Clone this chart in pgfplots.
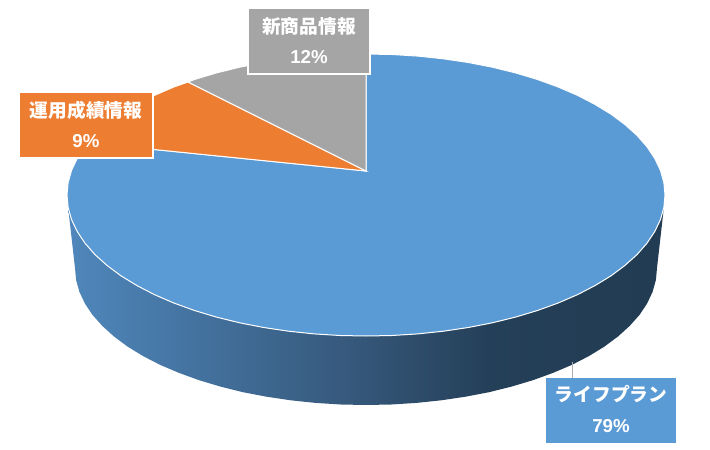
\documentclass[border=0pt]{standalone}
\usepackage{pgfplots}
\pgfplotsset{compat=1.18}
\usepackage{fontspec}
\setmainfont{Liberation Sans}
\newfontfamily\cjk{Noto Sans CJK JP}
\definecolor{cblue}{HTML}{5B9BD5}
\definecolor{corange}{HTML}{ED7D31}
\definecolor{cgrey}{HTML}{A5A5A5}
\pgfdeclarehorizontalshading{sideshade}{100bp}{
  rgb(0bp)=(.31,.53,.737);
  rgb(25bp)=(.31,.53,.737);
  rgb(48.5bp)=(.212,.349,.486);
  rgb(60.5bp)=(.141,.247,.345);
  rgb(75bp)=(.133,.235,.325);
  rgb(100bp)=(.133,.235,.325)}
\newcommand{\lab}[1]{\fontsize{18.7}{22}\selectfont\bfseries\color{white}#1}
\begin{document}
\begin{tikzpicture}
\useasboundingbox (0,0) rectangle (710pt,450pt);
\begin{axis}[
  at={(0,0)}, anchor=south west,
  scale only axis, width=710pt, height=450pt,
  xmin=0, xmax=710, ymin=0, ymax=450, y dir=reverse,
  axis lines=none, clip=false]
% side of the pie
\addplot[draw=none, shading=sideshade] coordinates {
 (663.9,207.3)(660.5,219.5)(654.8,231.5)(647,243.2)(637,254.6)(624.9,265.5)(610.9,275.9)(595,285.6)(577.4,294.7)(558.2,303)(537.5,310.5)(515.5,317.1)(492.4,322.8)(468.3,327.5)(443.4,331.2)(417.9,333.9)(392.1,335.5)(366,336)
 (339.9,335.5)(314.1,333.9)(288.6,331.2)(263.7,327.5)(239.6,322.8)(216.5,317.1)(194.5,310.5)(173.8,303)(154.6,294.7)(137,285.6)(121.1,275.9)(107.1,265.5)(95,254.6)(85,243.2)(77.2,231.5)(71.5,219.5)(68.1,207.3)
 (75,268)(76.1,280)(79.4,291.8)(84.9,303.5)(92.5,314.9)(102.3,325.9)(114,336.5)(127.6,346.6)(143.1,356.1)(160.2,364.9)(179,372.9)(199.1,380.2)(220.5,386.6)(243,392.2)(266.5,396.7)(290.7,400.3)(315.5,402.9)(340.6,404.5)(366,405)
 (391.4,404.5)(416.5,402.9)(441.3,400.3)(465.5,396.7)(489,392.2)(511.5,386.6)(532.9,380.2)(553,372.9)(571.8,364.9)(588.9,356.1)(604.4,346.6)(618,336.5)(629.7,325.9)(639.5,314.9)(647.1,303.5)(652.6,291.8)(655.9,280)(657,268)
} -- cycle;
% leader line
\addplot[draw=cgrey!90, line width=1pt] coordinates {(572.5,362)(572.5,378)};
% blue wedge: ライフプラン 79%
\addplot[fill=cblue, draw=white, line width=1pt] coordinates {
 (366,171)(366,54)(392.1,54.5)(417.9,56.1)(443.4,58.8)(468.3,62.5)(492.4,67.2)(515.5,72.9)(537.5,79.5)(558.2,87)(577.4,95.3)(595,104.4)(610.9,114.1)(624.9,124.5)(637,135.4)(647,146.8)(654.8,158.5)(660.5,170.5)(663.9,182.7)(665,195)
 (663.9,207.3)(660.5,219.5)(654.8,231.5)(647,243.2)(637,254.6)(624.9,265.5)(610.9,275.9)(595,285.6)(577.4,294.7)(558.2,303)(537.5,310.5)(515.5,317.1)(492.4,322.8)(468.3,327.5)(443.4,331.2)(417.9,333.9)(392.1,335.5)(366,336)
 (339.9,335.5)(314.1,333.9)(288.6,331.2)(263.7,327.5)(239.6,322.8)(216.5,317.1)(194.5,310.5)(173.8,303)(154.6,294.7)(137,285.6)(121.1,275.9)(107.1,265.5)(95,254.6)(85,243.2)(77.2,231.5)(71.5,219.5)(68.1,207.3)
 (67,195)(68.1,182.7)(71.5,170.5)(77.2,158.5)(85,146.8)(88,142.8)
} -- cycle;
% orange wedge: 運用成績情報 9%
\addplot[fill=corange, draw=white, line width=1pt] coordinates {
 (366,171)(88,142.8)(95,135.4)(107.1,124.5)(121.1,114.1)(137,104.4)(154.6,95.3)(173.8,87)(188,82)
} -- cycle;
% grey wedge: 新商品情報 12%
\addplot[fill=cgrey, draw=white, line width=1pt] coordinates {
 (366,171)(188,82)(194.5,79.5)(216.5,72.9)(239.6,67.2)(263.7,62.5)(288.6,58.8)(314.1,56.1)(339.9,54.5)(366,54)
} -- cycle;
% label boxes
\addplot[fill=cgrey, draw=white, line width=2pt] coordinates {(248,8)(370,8)(370,74)(248,74)} -- cycle;
\addplot[fill=corange, draw=white, line width=2pt] coordinates {(19,92)(153,92)(153,158)(19,158)} -- cycle;
\addplot[fill=cblue, draw=none] coordinates {(546,378)(676,378)(676,443)(546,443)} -- cycle;
\node at (axis cs:309,26) {\lab{\cjk 新商品情報}};
\node at (axis cs:309,57) {\lab{12\%}};
\node at (axis cs:86,110) {\lab{\cjk 運用成績情報}};
\node at (axis cs:86,141) {\lab{9\%}};
\node at (axis cs:611,394) {\lab{\cjk ライフプラン}};
\node at (axis cs:611,426) {\lab{79\%}};
\end{axis}
\end{tikzpicture}
\end{document}
